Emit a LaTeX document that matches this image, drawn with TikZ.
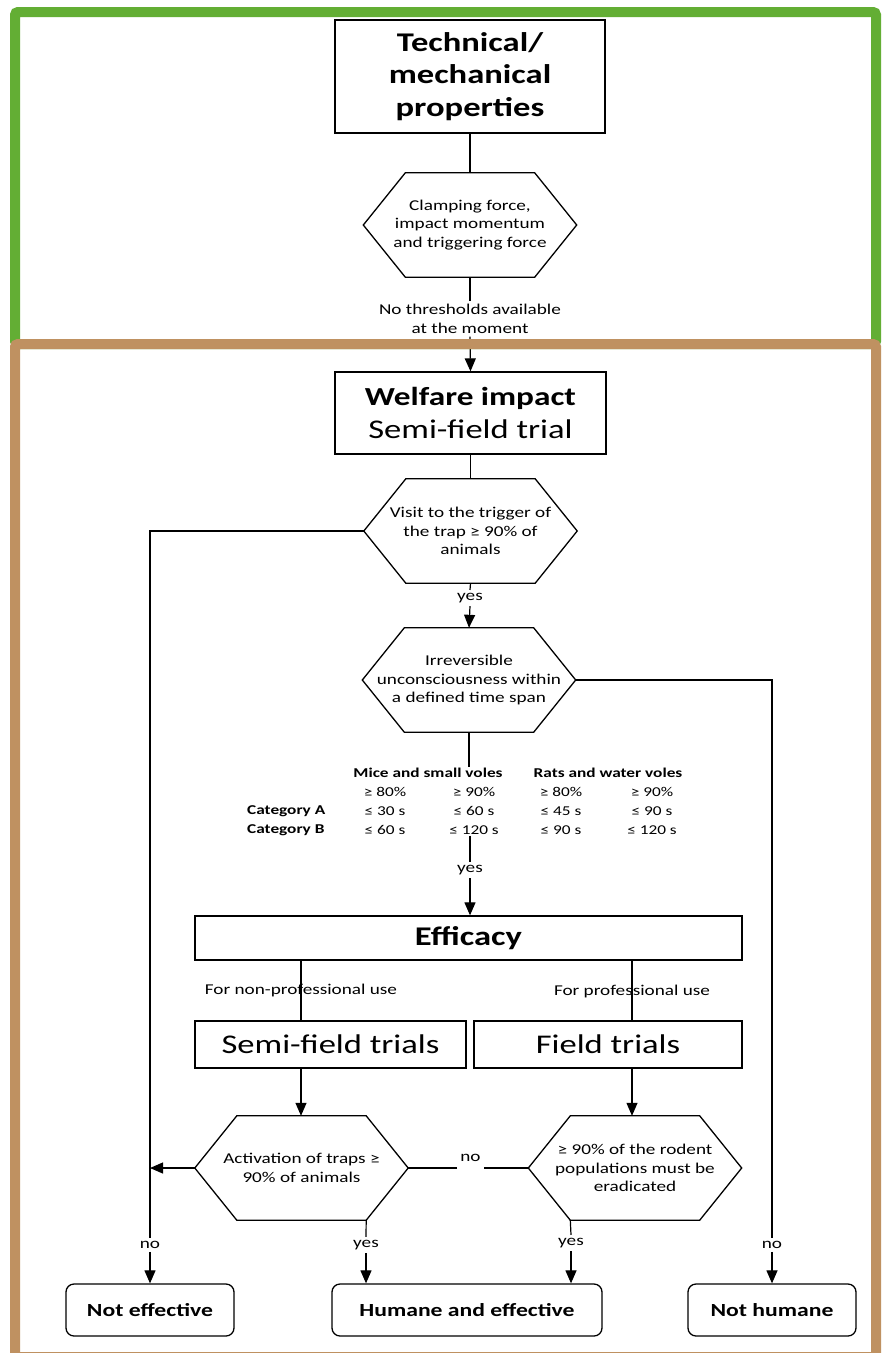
\documentclass[tikz,border=0pt]{standalone}
\usepackage{fontspec}
\setmainfont{Carlito}[FakeStretch=1.28]
\usetikzlibrary{arrows.meta}
\definecolor{framegreen}{RGB}{99,174,52}
\definecolor{framebrown}{RGB}{191,145,97}
\newcommand\hexline[1]{\draw[boxline] (#1.west) -- ([xshift=42pt]#1.north west) -- ([xshift=-42pt]#1.north east) -- (#1.east) -- ([xshift=-42pt]#1.south east) -- ([xshift=42pt]#1.south west) -- cycle;}

\begin{document}
\begin{tikzpicture}[x=1pt, y=-1pt,
  boxline/.style={draw, line width=1.3pt},
  box/.style={boxline, rectangle, inner sep=0pt, align=center},
  endbox/.style={box, rounded corners=8pt, minimum width=168, minimum height=52, font=\fontsize{18.5}{22}\selectfont\bfseries},
  hexbox/.style={inner sep=0pt, minimum width=213, minimum height=104, align=center, font=\fontsize{15}{18.5}\selectfont},
  lab/.style={inner sep=3pt, align=center, font=\fontsize{15}{18.5}\selectfont},
  tab/.style={inner sep=1pt, font=\fontsize{13.5}{16}\selectfont},
  conn/.style={line width=1.2pt},
  arr/.style={conn, -{Triangle[length=13pt, width=11pt]}},
  framebox/.style={line width=10pt, rounded corners=3pt}]
\path[use as bounding box, fill=white] (0,0) rectangle (883,1353);

\node[box, minimum width=270, minimum height=113, font=\fontsize{27}{32.5}\selectfont\bfseries] (tech) at (470,76.5) {Technical/\\mechanical\\properties};
\node[hexbox] (hexA) at (470,225) {Clamping force,\\impact momentum\\and triggering force};
\hexline{hexA}
\node[lab] (nothr) at (470,319) {No thresholds available\\at the moment};

\node[box, minimum width=271, minimum height=82, font=\fontsize{27}{33}\selectfont] (welfare) at (470.5,413) {{\bfseries\fontsize{26}{33}\selectfont Welfare impact}\\Semi-field trial};
\node[hexbox] (hexB) at (470.5,531) {Visit to the trigger of\\the trap ≥ 90\% of\\animals};
\hexline{hexB}
\node[lab] (yesA) at (470,598) {yes};
\node[hexbox] (hexC) at (469,680) {Irreversible\\unconsciousness within\\a defined time span};
\hexline{hexC}

\node[tab, font=\fontsize{13.5}{16}\selectfont\bfseries] (mice) at (428,773) {Mice and small voles};
\node[tab, font=\fontsize{13.5}{16}\selectfont\bfseries] (rats) at (608,773) {Rats and water voles};
\foreach \r/\ry/\lab/\ca/\cb/\cc/\cd in {1/792/{}/{≥ 80\%}/{≥ 90\%}/{≥ 80\%}/{≥ 90\%},
    2/811/{Category A}/{≤ 30 s}/{≤ 60 s}/{≤ 45 s}/{≤ 90 s},
    3/830/{Category B}/{≤ 60 s}/{≤ 120 s}/{≤ 90 s}/{≤ 120 s}} {
  \node[tab, anchor=west, font=\fontsize{13.5}{16}\selectfont\bfseries] (cat\r) at (246,\ry) {\lab};
  \node[tab] (t\r-1) at (385,\ry) {\ca};
  \node[tab] (t\r-2) at (474,\ry) {\cb};
  \node[tab] (t\r-3) at (561,\ry) {\cc};
  \node[tab] (t\r-4) at (652,\ry) {\cd};
}
\node[lab] (yesB) at (470,870) {yes};

\node[box, minimum width=547, minimum height=44, font=\fontsize{27}{33}\selectfont\bfseries] (efficacy) at (468.5,938) {Efficacy};
\node[lab] (nonpro) at (301,990) {For non-professional use};
\node[lab] (pro) at (632,991) {For professional use};
\node[box, minimum width=271, minimum height=47, font=\fontsize{27}{33}\selectfont] (semi) at (330.5,1044.5) {Semi-field trials};
\node[box, minimum width=268, minimum height=47, font=\fontsize{27}{33}\selectfont] (field) at (608,1044.5) {Field trials};

\node[hexbox] (hexD) at (301.5,1168) {Activation of traps ≥\\90\% of animals};
\hexline{hexD}
\node[hexbox] (hexE) at (635,1168) {≥ 90\% of the rodent\\populations must be\\eradicated};
\hexline{hexE}
\node[lab] (noC) at (470.5,1158) {no};

\node[lab] (noA) at (150,1245) {no};
\node[lab] (yesC) at (366,1245) {yes};
\node[lab] (yesD) at (571,1243) {yes};
\node[lab] (noB) at (772,1245) {no};
\node[endbox] (noteff) at (150,1310) {Not effective};
\node[endbox, minimum width=270] (humane) at (467,1310) {Humane and effective};
\node[endbox] (nothum) at (772,1310) {Not humane};

\draw[conn] (tech.south) -- (hexA.north);
\draw[conn] (hexA.south) -- (nothr.north);
\draw[arr] (nothr.south) -- (welfare.north);
\draw[conn] (welfare.south) -- (hexB.north);
\draw[conn] (hexB.south) -- (yesA.north);
\draw[arr] (yesA.south) -- (hexC.north);
\draw[conn] (hexB.west) -| (noA.north);
\draw[arr] (noA.south) -- (noteff.north);
\draw[conn] (hexC.east) -| (noB.north);
\draw[arr] (noB.south) -- (nothum.north);
\draw[conn] (hexC.south) -- (hexC.south |- mice.north);
\draw[conn] (yesB.north |- t3-2.south) -- (yesB.north);
\draw[arr] (yesB.south) -- (efficacy.north -| yesB.south);
\draw[conn] (efficacy.south -| nonpro) -- (semi.north -| nonpro);
\draw[conn] (efficacy.south -| pro) -- (field.north -| pro);
\draw[arr] (semi.south -| nonpro) -- (hexD.north -| nonpro);
\draw[arr] (field.south -| pro) -- (hexE.north -| pro);
\draw[conn] (hexE.west) -- (noC.east |- hexE.west);
\draw[conn] (noC.west |- hexD.east) -- (hexD.east);
\draw[arr] (hexD.west) -- (noA |- hexD.west);
\draw[conn] ([xshift=-42pt]hexD.south east) -- (yesC.north);
\draw[arr] (yesC.south) -- (humane.north -| yesC);
\draw[conn] ([xshift=42pt]hexE.south west) -- (yesD.north);
\draw[arr] (yesD.south) -- (humane.north -| yesD);

\draw[framebox, framegreen] (15,12) rectangle (876,344);
\draw[framebox, framebrown] (15,344) rectangle (876,1357);
\end{tikzpicture}
\end{document}
